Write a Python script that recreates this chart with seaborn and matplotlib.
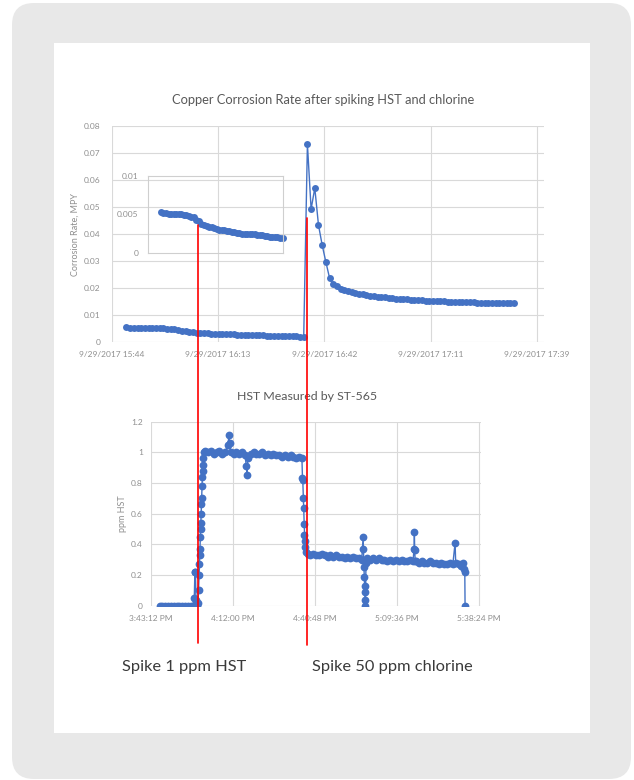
import numpy as np
import pandas as pd
import matplotlib
matplotlib.use("Agg")
import matplotlib.pyplot as plt
import seaborn as sns
from matplotlib.patches import FancyBboxPatch, Rectangle
from matplotlib.lines import Line2D
from matplotlib.transforms import IdentityTransform

# corrosion probe log, minutes after 9/29/2017 15:44 (one reading per minute)
rate_minutes = list(range(4, 53)) + list(range(53, 110))
rate_mpy = [
    0.0053, 0.0052, 0.0052, 0.0051, 0.0051, 0.0051, 0.0050, 0.0050, 0.0050, 0.0049,
    0.0049, 0.0048, 0.0047, 0.0046, 0.0043, 0.0041, 0.0038, 0.0036, 0.0035, 0.0034,
    0.0033, 0.0032, 0.0031, 0.0030, 0.0030, 0.0029, 0.0028, 0.0028, 0.0027, 0.0027,
    0.0026, 0.0026, 0.0025, 0.0025, 0.0025, 0.0024, 0.0024, 0.0024, 0.0023, 0.0023,
    0.0023, 0.0022, 0.0022, 0.0021, 0.0021, 0.0020, 0.0020, 0.0019, 0.0019,
    # after chlorine spike
    0.0732, 0.0491, 0.0569, 0.0432, 0.0358, 0.0295, 0.0236, 0.0215, 0.0205, 0.0197,
    0.0191, 0.0187, 0.0183, 0.0180, 0.0178, 0.0175, 0.0173, 0.0171, 0.0169, 0.0167,
    0.0166, 0.0164, 0.0163, 0.0161, 0.0160, 0.0159, 0.0158, 0.0157, 0.0156, 0.0155,
    0.0154, 0.0153, 0.0152, 0.0151, 0.0150, 0.0150, 0.0149, 0.0149, 0.0148, 0.0148,
    0.0147, 0.0147, 0.0147, 0.0146, 0.0146, 0.0146, 0.0145, 0.0145, 0.0145, 0.0144,
    0.0144, 0.0144, 0.0143, 0.0143, 0.0143, 0.0142, 0.0142,
]

# ST-565 analyser, minutes after 3:43:12 PM
hst_minutes = [
    3.2, 4, 5, 6, 7, 8, 9, 10, 11, 12, 13, 14, 14.6, 15.2, 15.4, 15.6, 15.8, 16.2,
    16.5, 16.7, 16.9, 17.0, 17.1, 17.2, 17.3, 17.4, 17.5, 17.6, 17.7, 17.8, 17.9, 18.0,
    18.1, 18.2, 18.4, 18.6,
    19, 20, 21, 22, 23, 24, 25, 26, 27, 27.4, 27.6, 28, 29, 30, 31, 32, 33, 33.5, 33.7,
    34, 35, 36, 37, 38, 39, 40, 41, 42, 43, 44, 45, 46, 47, 48, 49, 50, 51, 52, 53.0,
    53.2, 53.3, 53.5, 53.6, 53.8, 53.9, 54.0, 54.2, 54.4,
    55, 56, 57, 58, 59, 60, 61, 62, 63, 64, 65, 66, 67, 68, 69, 70, 71, 72, 73, 74,
    74.5, 74.6, 74.7, 74.8, 74.9, 75.0, 75.1, 75.2, 75.3, 75.5,
    76, 77, 78, 79, 80, 81, 82, 83, 84, 85, 86, 87, 88, 89, 90, 91, 92,
    92.4, 92.5, 92.6, 92.8,
    93, 94, 95, 96, 97, 98, 99, 100, 101, 102, 103, 104, 105, 106, 106.8, 107,
    108, 109, 109.5, 110, 110.2, 110.3,
]
hst_ppm = [
    0.0, 0.0, 0.0, 0.0, 0.0, 0.0, 0.0, 0.0, 0.0, 0.0, 0.0, 0.0, 0.0, 0.05, 0.22, 0.22,
    0.04, 0.0,
    0.02, 0.10, 0.20, 0.27, 0.33, 0.37, 0.45, 0.50, 0.54, 0.60, 0.66, 0.70, 0.78, 0.84,
    0.88, 0.92, 0.96, 1.00,
    1.01, 1.00, 1.01, 0.99, 1.00, 1.01, 0.99, 1.00, 1.05, 1.11, 1.06, 1.00, 0.99, 1.00,
    0.99, 1.00, 0.98, 0.91, 0.85,
    0.96, 0.99, 1.00, 0.99, 0.99, 1.00, 0.98, 0.99, 0.98, 0.99, 0.98, 0.98, 0.97, 0.98,
    0.97, 0.98, 0.97, 0.96, 0.97, 0.96,
    0.83, 0.82, 0.70, 0.64, 0.53, 0.46, 0.42, 0.38, 0.35,
    0.34, 0.33, 0.34, 0.33, 0.33, 0.34, 0.33, 0.32, 0.33, 0.32, 0.33, 0.32, 0.32, 0.31,
    0.32, 0.31, 0.32, 0.31, 0.31, 0.30,
    0.45, 0.37, 0.30, 0.25, 0.19, 0.13, 0.09, 0.04, 0.0, 0.28,
    0.31, 0.30, 0.31, 0.30, 0.31, 0.30, 0.30, 0.29, 0.30, 0.29, 0.30, 0.29, 0.30, 0.29,
    0.29, 0.30, 0.29,
    0.37, 0.48, 0.36, 0.29,
    0.29, 0.28, 0.29, 0.28, 0.28, 0.29, 0.28, 0.28, 0.27, 0.28, 0.27, 0.27, 0.28, 0.27,
    0.41, 0.28,
    0.27, 0.26, 0.28, 0.24, 0.22, 0.0,
]

time_ticks = [0, 28.8, 57.6, 86.4, 115.2]
rate_tick_labels = ["9/29/2017 15:44", "9/29/2017 16:13", "9/29/2017 16:42",
                    "9/29/2017 17:11", "9/29/2017 17:39"]
hst_tick_labels = ["3:43:12 PM", "4:12:00 PM", "4:40:48 PM", "5:09:36 PM", "5:38:24 PM"]
rate_yticks = [0, 0.01, 0.02, 0.03, 0.04, 0.05, 0.06, 0.07, 0.08]
inset_yticks = [0, 0.005, 0.01]
hst_yticks = [0, 0.2, 0.4, 0.6, 0.8, 1.0, 1.2]

rate_df = pd.DataFrame({"Minutes": rate_minutes, "Rate": rate_mpy})
hst_df = pd.DataFrame({"Minutes": hst_minutes, "HST": hst_ppm})
base_df = rate_df[rate_df["Minutes"] < 53]

BLUE = "#4472C4"
GRID = "#d9d9d9"
TICK = "#8f8f8f"

sns.set_theme(style="white")
plt.rcParams["font.family"] = ["Lato", "DejaVu Sans"]

fig = plt.figure(figsize=(6.34, 7.8), dpi=100)
fig.patches.append(FancyBboxPatch((12, 1), 619, 776, boxstyle="round,pad=0,rounding_size=22",
                                  transform=IdentityTransform(), fc="#e8e8e8", ec="none", zorder=-2))
fig.patches.append(Rectangle((54, 47), 536, 690, transform=IdentityTransform(),
                             fc="white", ec="none", zorder=-1))


def style_axes(ax, xticks, xlabels, yticks, ylabels, xpad, ypad):
    ax.set_facecolor("none")
    ax.set_xticks(xticks, xlabels)
    ax.set_yticks(yticks, ylabels)
    ax.grid(True, color=GRID, linewidth=0.8)
    for s in ax.spines.values():
        s.set_visible(False)
    ax.tick_params(axis="x", length=0, labelsize=6, labelcolor=TICK, pad=xpad)
    ax.tick_params(axis="y", length=0, labelsize=6, labelcolor=TICK, pad=ypad)
    ax.set_xlabel("")
    ax.set_ylabel("")


def fmt(v):
    return "0" if v == 0 else f"{v:g}"


line_kw = dict(color=BLUE, marker="o", markeredgewidth=0, estimator=None, sort=False)

# top chart
ax1 = fig.add_axes([0.1762, 0.5619, 0.682, 0.2769])
sns.lineplot(data=rate_df, x="Minutes", y="Rate", ax=ax1, markersize=5, linewidth=1.0, **line_kw)
ax1.set_xlim(0, 117.1)
ax1.set_ylim(0, 0.08)
style_axes(ax1, time_ticks, rate_tick_labels, rate_yticks, [fmt(v) for v in rate_yticks], 6.5, 8)

# inset zoom on the baseline
ax_in = fig.add_axes([0.2339, 0.676, 0.2129, 0.0983])
sns.lineplot(data=base_df, x="Minutes", y="Rate", ax=ax_in, markersize=5, linewidth=1.0,
             clip_on=False, **line_kw)
ax_in.set_xlim(-1.0, 52.3)
ax_in.set_ylim(0, 0.01)
ax_in.set_facecolor("none")
ax_in.set_xticks([])
ax_in.set_yticks(inset_yticks, ["0", "0.005", "0.01"])
ax_in.tick_params(axis="y", length=0, labelsize=6, labelcolor=TICK, pad=7)
for s in ax_in.spines.values():
    s.set_color("#cfcfcf")
    s.set_linewidth(0.8)
ax_in.set_xlabel("")
ax_in.set_ylabel("")

# bottom chart
ax2 = fig.add_axes([0.2382, 0.2235, 0.5205, 0.2359])
sns.lineplot(data=hst_df, x="Minutes", y="HST", ax=ax2, markersize=5.6, linewidth=1.0, **line_kw)
ax2.set_xlim(0, 115.9)
ax2.set_ylim(0, 1.2)
style_axes(ax2, time_ticks, hst_tick_labels, hst_yticks, [fmt(v) for v in hst_yticks], 7, 6)

# spike markers
fig.add_artist(Line2D([0.3128, 0.3128], [0.1756, 0.7115], color="red", lw=1.2, zorder=5))
fig.add_artist(Line2D([0.4840, 0.4840], [0.1730, 0.7205], color="red", lw=1.2, zorder=5))

fig.text(0.509, 0.872, "Copper Corrosion Rate after spiking HST and chlorine",
         ha="center", va="center", fontsize=9.3, color="#595959")
fig.text(0.4838, 0.4923, "HST Measured by ST-565", ha="center", va="center",
         fontsize=8.9, color="#595959")
fig.text(0.118, 0.699, "Corrosion Rate, MPY", rotation=90, ha="center", va="center",
         fontsize=6.5, color=TICK)
fig.text(0.194, 0.342, "ppm HST", rotation=90, ha="center", va="center",
         fontsize=6.5, color=TICK)
fig.text(0.192, 0.145, "Spike 1 ppm HST", ha="left", va="center", fontsize=11.8, color="#3a3a3a")
fig.text(0.4916, 0.145, "Spike 50 ppm chlorine", ha="left", va="center", fontsize=11.8,
         color="#3a3a3a")

fig.savefig("out.png", dpi=100, facecolor="white")
